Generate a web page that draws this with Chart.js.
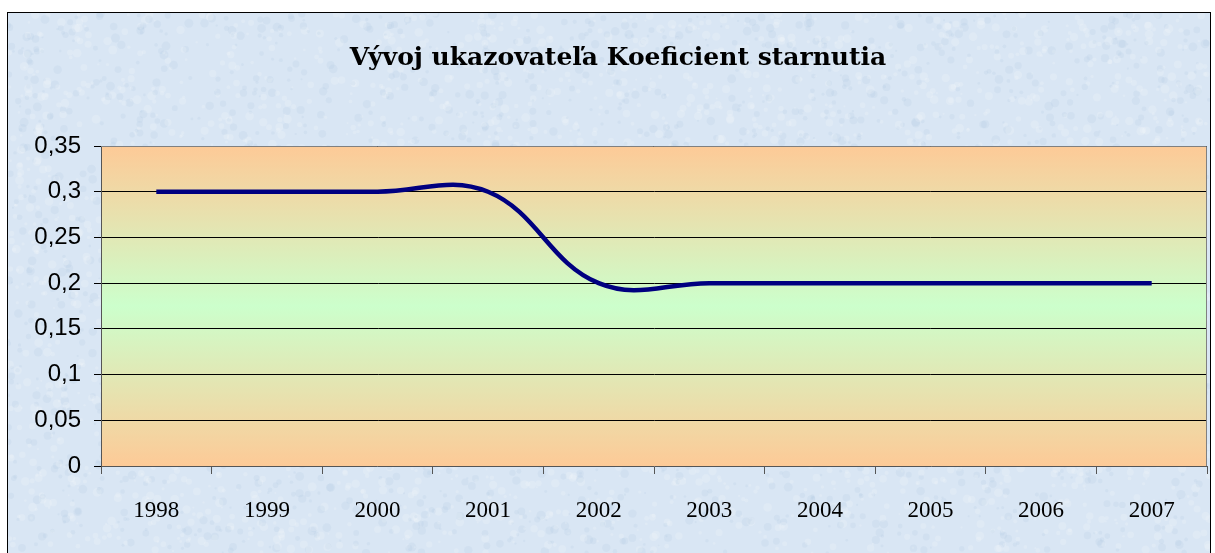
<!DOCTYPE html>
<html><head><meta charset="utf-8">
<script src="https://cdn.jsdelivr.net/npm/chart.js@4/dist/chart.umd.min.js"></script>
<style>html,body{margin:0;padding:0;background:#fff}#wrap{width:1215px;height:553px;position:relative}</style>
</head><body><div id="wrap"><canvas id="c" width="1215" height="553"></canvas></div>
<script>
const titleText = 'Vývoj ukazovateľa Koeficient starnutia';
const years = ['1998','1999','2000','2001','2002','2003','2004','2005','2006','2007'];
const values = [0.3,0.3,0.3,0.3,0.2,0.2,0.2,0.2,0.2,0.2];
const yTicks = [0,0.05,0.1,0.15,0.2,0.25,0.3,0.35];

function texture(ctx){
  // deterministic decorative speckle for the textured background
  let s=12345; const rnd=()=>{s=(s*1103515245+12345)&0x7fffffff;return s/0x7fffffff;};
  for(let i=0;i<6000;i++){
    const x=8+rnd()*1202, y=13+rnd()*540, r=1+rnd()*3.5;
    ctx.fillStyle = rnd()<0.55 ? 'rgba(255,255,255,0.16)' : 'rgba(165,190,222,0.14)';
    ctx.beginPath(); ctx.arc(x,y,r,0,Math.PI*2); ctx.fill();
  }
}

const decor = {
  id:'decor',
  beforeDraw(chart){
    const ctx=chart.ctx, a=chart.chartArea;
    ctx.save();
    ctx.fillStyle='#ffffff'; ctx.fillRect(0,0,chart.width,chart.height);
    ctx.fillStyle='#d9e6f4'; ctx.fillRect(7.5,12.5,1203,560);
    ctx.save(); ctx.beginPath(); ctx.rect(8,13,1202,560); ctx.clip(); texture(ctx); ctx.restore();
    ctx.strokeStyle='#000'; ctx.lineWidth=1; ctx.strokeRect(7.5,12.5,1203,560);
    const g=ctx.createLinearGradient(0,a.top,0,a.bottom);
    g.addColorStop(0,'#fdca97'); g.addColorStop(0.5,'#ccffcc'); g.addColorStop(1,'#fdca97');
    ctx.fillStyle=g; ctx.fillRect(a.left,a.top,a.right-a.left,a.bottom-a.top);
    ctx.font='bold 25px "DejaVu Serif", serif';
    ctx.fillStyle='#000'; ctx.textAlign='center'; ctx.textBaseline='alphabetic';
    ctx.fillText(titleText,618,65);
    ctx.restore();
  },
  beforeDatasetsDraw(chart){
    const ctx=chart.ctx, a=chart.chartArea;
    ctx.save(); ctx.strokeStyle='#808080'; ctx.lineWidth=1;
    ctx.beginPath(); ctx.moveTo(a.left,a.top+0.5); ctx.lineTo(a.right-0.5,a.top+0.5); ctx.lineTo(a.right-0.5,a.bottom); ctx.stroke();
    ctx.restore();
  }
};

new Chart(document.getElementById('c'),{
  type:'line',
  data:{labels:years,datasets:[{data:values,borderColor:'#000080',borderWidth:4.5,pointRadius:0,tension:0.4,fill:false}]},
  options:{
    responsive:false,animation:false,
    layout:{padding:{left:0,top:146,right:8,bottom:0}},
    plugins:{legend:{display:false},tooltip:{enabled:false},title:{display:false}},
    scales:{
      x:{offset:true,
        grid:{offset:true,drawOnChartArea:false,drawTicks:true,tickLength:8,color:'#555'},
        border:{color:'#555',width:1},
        ticks:{color:'#000',font:{family:'"Liberation Serif", serif',size:23},padding:23,maxRotation:0},
        afterFit(s){s.height=87;}
      },
      y:{min:0,max:0.35,
        afterBuildTicks(s){s.ticks=yTicks.map(v=>({value:v}));},
        grid:{color:(c)=>c.tick&&c.tick.value===0?'rgba(0,0,0,0)':'#000',tickColor:'#000',tickLength:7,lineWidth:1},
        border:{color:'#555',width:1},
        ticks:{color:'#000',padding:13,font:{family:'"Liberation Sans", Arial, sans-serif',size:24},
          callback:(v)=>String(v).replace('.',',')},
        afterFit(s){s.width=101;}
      }
    }
  },
  plugins:[decor]
});
</script></body></html>
